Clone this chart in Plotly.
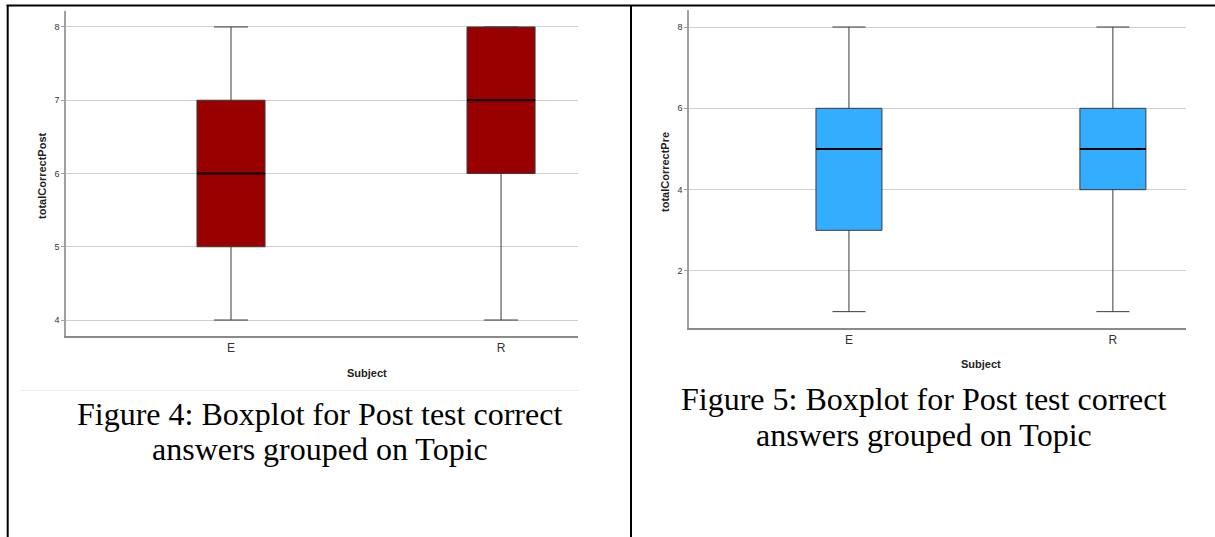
import plotly.graph_objects as go

W, H = 1215, 537

# ---- data ----
subjects = ["E", "R"]
post_q1 = [5, 6]
post_median = [6, 7]
post_q3 = [7, 8]
post_low = [4, 4]
post_high = [8, 8]

pre_q1 = [3, 4]
pre_median = [5, 5]
pre_q3 = [6, 6]
pre_low = [1, 1]
pre_high = [8, 8]

post_ticks = [4, 5, 6, 7, 8]
pre_ticks = [2, 4, 6, 8]

caption_left = ["Figure 4: Boxplot for Post test correct", "answers grouped on Topic"]
caption_right = ["Figure 5: Boxplot for Post test correct", "answers grouped on Topic"]


def px(x):
    return x / W


def py(y):
    return 1 - y / H


fig = go.Figure()
pos = list(range(len(subjects)))
BW_L = 0.252
BW_R = 0.25


def add_panel(xa, ya, q1, med, q3, lo, hi, color, bw):
    fig.add_trace(go.Box(
        x=pos, q1=q1, median=med, q3=q3, lowerfence=lo, upperfence=hi,
        fillcolor=color, line=dict(color="#3a3a3a", width=1),
        width=bw, whiskerwidth=0.5, boxpoints=False,
        xaxis=xa, yaxis=ya, showlegend=False, hoverinfo="skip",
    ))
    xs, ys = [], []
    for p, m in zip(pos, med):
        xs += [p - bw / 2, p + bw / 2, None]
        ys += [m, m, None]
    fig.add_trace(go.Scatter(
        x=xs, y=ys, mode="lines", line=dict(color="#000000", width=2),
        xaxis=xa, yaxis=ya, showlegend=False, hoverinfo="skip",
    ))


add_panel("x", "y", post_q1, post_median, post_q3, post_low, post_high, "#990000", BW_L)
add_panel("x2", "y2", pre_q1, pre_median, pre_q3, pre_low, pre_high, "#33adff", BW_R)

xcommon = dict(
    tickmode="array", tickvals=pos, ticktext=subjects,
    showgrid=False, zeroline=False, showline=True, linecolor="#8a8a8a", linewidth=1.5,
    ticks="", tickfont=dict(family="Liberation Sans", size=12, color="#333333"),
    fixedrange=True,
)
ycommon = dict(
    showgrid=True, gridcolor="#cfcfcf", gridwidth=1, zeroline=False,
    showline=True, linecolor="#a0a0a0", linewidth=1.5,
    ticks="outside", ticklen=3, tickcolor="#a0a0a0", ticklabelstandoff=0,
    tickfont=dict(family="Liberation Sans", size=9, color="#333333"),
    fixedrange=True,
)

fig.update_layout(
    width=W, height=H,
    margin=dict(l=0, r=0, t=0, b=0),
    paper_bgcolor="white", plot_bgcolor="white",
    xaxis=dict(domain=[px(66), px(578)], range=[-0.611, 1.285], anchor="y", **xcommon),
    yaxis=dict(domain=[py(336), py(11)], range=[3.782, 8.218], anchor="x",
               tickvals=post_ticks, **ycommon),
    xaxis2=dict(domain=[px(689), px(1186)], range=[-0.606, 1.277], anchor="y2", **xcommon),
    yaxis2=dict(domain=[py(328), py(10)], range=[0.598, 8.418], anchor="x2",
                tickvals=pre_ticks, **ycommon),
)

shapes = [
    # table borders
    dict(type="line", xref="paper", yref="paper", x0=px(6.5), x1=1, y0=py(5.5), y1=py(5.5),
         line=dict(color="black", width=2)),
    dict(type="line", xref="paper", yref="paper", x0=px(7.7), x1=px(7.7), y0=py(5), y1=0,
         line=dict(color="black", width=2)),
    dict(type="line", xref="paper", yref="paper", x0=px(631), x1=px(631), y0=py(5), y1=0,
         line=dict(color="black", width=2)),
    # faint separator under left chart
    dict(type="line", xref="paper", yref="paper", x0=px(20), x1=px(579), y0=py(390.5), y1=py(390.5),
         line=dict(color="#ececec", width=1)),
]
fig.update_layout(shapes=shapes)

ann = []
title_font = dict(family="Liberation Sans", size=11, color="#222222")
ann.append(dict(text="<b>Subject</b>", x=px(367), y=py(373), xref="paper", yref="paper",
                showarrow=False, font=title_font, xanchor="center", yanchor="middle"))
ann.append(dict(text="<b>Subject</b>", x=px(981), y=py(364), xref="paper", yref="paper",
                showarrow=False, font=title_font, xanchor="center", yanchor="middle"))
ann.append(dict(text="<b>totalCorrectPost</b>", x=px(42), y=py(175), xref="paper", yref="paper",
                showarrow=False, font=title_font, textangle=-90, xanchor="center", yanchor="middle"))
ann.append(dict(text="<b>totalCorrectPre</b>", x=px(665), y=py(172), xref="paper", yref="paper",
                showarrow=False, font=title_font, textangle=-90, xanchor="center", yanchor="middle"))

cap_font = dict(family="Liberation Serif", size=32, color="#000000")
for txt, yy in zip(caption_left, [414, 449]):
    ann.append(dict(text=txt, x=px(319.5), y=py(yy), xref="paper", yref="paper",
                    showarrow=False, font=cap_font, xanchor="center", yanchor="middle"))
for txt, yy in zip(caption_right, [399, 435]):
    ann.append(dict(text=txt, x=px(923.5), y=py(yy), xref="paper", yref="paper",
                    showarrow=False, font=cap_font, xanchor="center", yanchor="middle"))
fig.update_layout(annotations=ann)

fig.write_html("out.html", config={"displayModeBar": False})
